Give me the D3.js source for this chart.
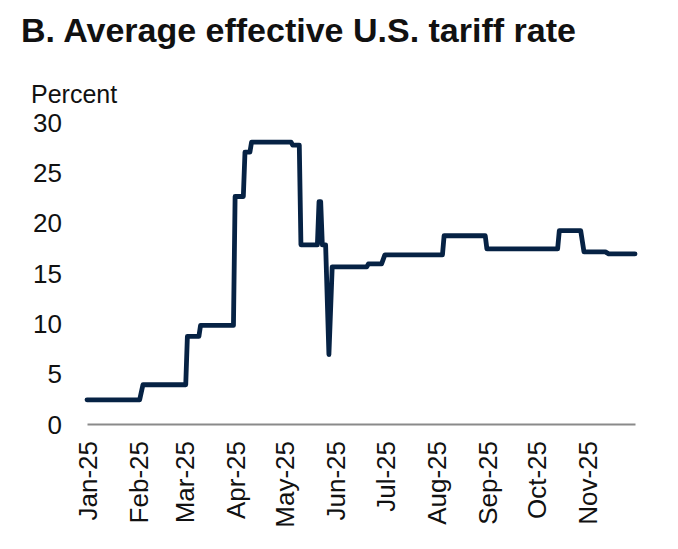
<!DOCTYPE html>
<html>
<head>
<meta charset="utf-8">
<script src="https://cdn.jsdelivr.net/npm/d3@7"></script>
<style>
  body { margin: 0; background: #fff; }
  svg text { font-family: "Liberation Sans", Arial, sans-serif; fill: #111; }
</style>
</head>
<body>
<svg id="chart" width="678" height="549"></svg>
<script>
// Breakpoints of the tariff series (date, percent)
const dates = [
  '2025-01-01', '2025-02-02', '2025-02-04', '2025-03-02', '2025-03-03',
  '2025-03-10', '2025-03-11', '2025-03-31', '2025-04-01', '2025-04-06',
  '2025-04-07', '2025-04-10', '2025-04-11', '2025-05-05', '2025-05-06',
  '2025-05-10', '2025-05-11', '2025-05-21', '2025-05-22', '2025-05-23',
  '2025-05-24', '2025-05-26', '2025-05-28', '2025-05-30', '2025-06-20',
  '2025-06-21', '2025-06-29', '2025-07-01', '2025-08-05', '2025-08-06',
  '2025-08-31', '2025-09-01', '2025-10-14', '2025-10-15', '2025-10-28',
  '2025-10-30', '2025-11-12', '2025-11-14', '2025-11-30'
];
const rates = [
  2.4, 2.4, 3.9, 3.9, 8.7,
  8.7, 9.8, 9.8, 22.6, 22.6,
  27.0, 27.0, 28.0, 28.0, 27.7,
  27.7, 17.8, 17.8, 22.1, 22.1,
  17.8, 17.8, 6.9, 15.6, 15.6,
  15.9, 15.9, 16.8, 16.8, 18.7,
  18.7, 17.4, 17.4, 19.2, 19.2,
  17.1, 17.1, 16.9, 16.9
];
const yTicks = [0, 5, 10, 15, 20, 25, 30];
const monthTicks = ['2025-01-01', '2025-02-01', '2025-03-01', '2025-04-01', '2025-05-01', '2025-06-01',
  '2025-07-01', '2025-08-01', '2025-09-01', '2025-10-01', '2025-11-01'];

const parse = d3.timeParse('%Y-%m-%d');
const data = dates.map((d, i) => ({date: parse(d), value: rates[i]}));

const svg = d3.select('svg#chart');

const x = d3.scaleTime()
    .domain([parse('2025-01-01'), parse('2025-11-30')])
    .range([87, 635]);

const y = d3.scaleLinear()
    .domain([0, 30])
    .range([424, 122]);

svg.append('text')
    .attr('x', 21)
    .attr('y', 42)
    .attr('font-size', 34)
    .attr('font-weight', 'bold')
    .text('B. Average effective U.S. tariff rate');

svg.append('text')
    .attr('x', 31)
    .attr('y', 103)
    .attr('font-size', 25)
    .text('Percent');

// y axis: labels only
const yAxis = svg.append('g')
    .attr('transform', 'translate(87,0)')
    .call(d3.axisLeft(y).tickValues(yTicks).tickSize(0).tickPadding(25));
yAxis.select('.domain').remove();
yAxis.selectAll('text')
    .attr('font-size', 26)
    .attr('font-family', null)
    .attr('dy', '0.35em');

// x axis
const xAxis = svg.append('g')
    .attr('transform', 'translate(0,424)')
    .call(d3.axisBottom(x)
        .tickValues(monthTicks.map(parse))
        .tickFormat(d3.timeFormat('%b-%y'))
        .tickSize(0)
        .tickSizeOuter(0));
xAxis.select('.domain')
    .attr('stroke', '#8a8a8a')
    .attr('stroke-width', 2);
xAxis.selectAll('text')
    .attr('font-size', 26)
    .attr('font-family', null)
    .attr('text-anchor', 'end')
    .attr('transform', 'rotate(-90)')
    .attr('x', -17)
    .attr('y', 0)
    .attr('dy', '0.36em');

const line = d3.line()
    .x(d => x(d.date))
    .y(d => y(d.value));

svg.append('path')
    .datum(data)
    .attr('fill', 'none')
    .attr('stroke', '#062244')
    .attr('stroke-width', 4.8)
    .attr('stroke-linejoin', 'round')
    .attr('stroke-linecap', 'round')
    .attr('d', line);
</script>
</body>
</html>
